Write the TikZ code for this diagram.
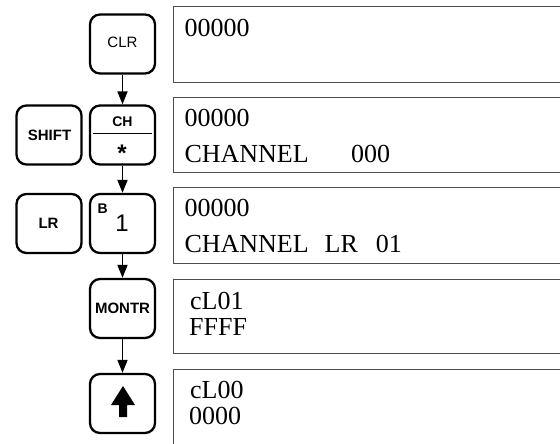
\documentclass[tikz,border=0pt]{standalone}
\usepackage{fontspec}
\setmainfont{Liberation Serif}
\newfontfamily\keyfont{Liberation Sans}
\usetikzlibrary{arrows.meta}
\begin{document}
\begin{tikzpicture}[x=1pt,y=-1pt,
  keybox/.style={draw, line width=2.3pt, rounded corners=10pt, minimum width=65pt, minimum height=59pt, inner sep=0pt},
  keylabel/.style={anchor=base, inner sep=0pt, font=\keyfont\fontsize{15}{18}\selectfont\bfseries},
  dispbox/.style={draw=black!70, line width=1pt, anchor=north west, minimum width=400pt, inner sep=0pt},
  disptext/.style={anchor=base west, inner sep=0pt, font=\fontsize{26}{30}\selectfont},
  flow/.style={line width=1.8pt, -{Triangle[width=10pt,length=13pt]}}]
\clip (0,0) rectangle (560,444);
% keys
\node[keybox] (clr) at (122.5,44) {};
\node[keylabel, font=\keyfont\fontsize{15}{18}\selectfont] (clrt) at (122.5,48) {CLR};
\node[keybox] (shift) at (49,135) {};
\node[keylabel] (shiftt) at (49.5,140.7) {SHIFT};
\node[keybox] (ch) at (122.5,135) {};
\node[keylabel, font=\keyfont\fontsize{14}{16}\selectfont\bfseries] (cht) at (122.5,126.7) {CH};
\draw[line width=1.8pt] ([xshift=4.5pt,yshift=1.5pt]ch.west) -- ([xshift=-4.5pt,yshift=1.5pt]ch.east);
\node[keylabel, font=\keyfont\fontsize{24}{26}\selectfont\bfseries] (star) at (122,161) {*};
\node[keybox] (lr) at (49,223.5) {};
\node[keylabel] (lrt) at (48.5,228.3) {LR};
\node[keybox] (one) at (122.5,223.5) {};
\node[anchor=base west, inner sep=0pt, font=\keyfont\fontsize{14}{16}\selectfont\bfseries] (bt) at (97.5,213) {B};
\node[anchor=base, inner sep=0pt, font=\keyfont\fontsize{24}{28}\selectfont] (onet) at (122,231) {1};
\node[keybox] (montr) at (122.5,308.5) {};
\node[keylabel] (montrt) at (122.5,313) {MONTR};
\node[keybox] (up) at (122.5,403.5) {};
\fill[shift={(up.center)}] (0.5,-17.5) -- (12.5,1.5) -- (4.5,1.5) -- (4.5,13.5) -- (-3.5,13.5) -- (-3.5,1.5) -- (-11.5,1.5) -- cycle;
% connectors
\draw[flow] (clr) -- (ch);
\draw[flow] (ch) -- (one);
\draw[flow] (one) -- (montr);
\draw[flow] (montr) -- (up);
% displays
\node[dispbox, minimum height=76pt] (d1) at (172.5,6.5) {};
\node[disptext] (t1) at (184.3,36.3) {00000};
\node[dispbox, minimum height=75pt] (d2) at (172.5,97) {};
\node[disptext] (t2a) at (184.3,126.5) {00000};
\node[disptext] (t2b) at (184.3,162.5) {CHANNEL\hspace{42.5pt}000};
\node[dispbox, minimum height=76pt] (d3) at (172.5,187) {};
\node[disptext] (t3a) at (184.3,216.8) {00000};
\node[disptext] (t3b) at (184.3,252.8) {CHANNEL\hspace{16pt}LR\hspace{18pt}01};
\node[dispbox, minimum height=74pt] (d4) at (172.5,279) {};
\node[disptext] (t4a) at (190,309) {cL01};
\node[disptext] (t4b) at (189,335) {FFFF};
\node[dispbox, minimum height=100pt] (d5) at (172.5,369) {};
\node[disptext] (t5a) at (190,398.3) {cL00};
\node[disptext] (t5b) at (189,424) {0000};
\end{tikzpicture}
\end{document}
